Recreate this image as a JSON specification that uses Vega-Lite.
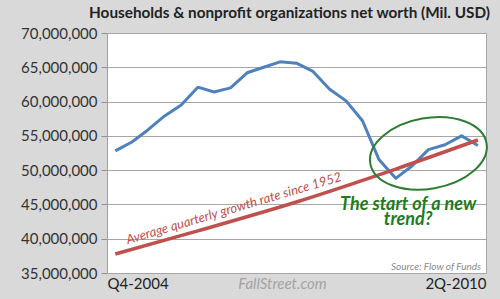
{
  "$schema": "https://vega.github.io/schema/vega-lite/v6.json",
  "width": 379,
  "height": 240,
  "autosize": "none",
  "padding": {"left": 107, "top": 33, "right": 14, "bottom": 26},
  "background": "#d9d9d9",
  "config": {
    "font": "Lato",
    "view": {"fill": "white", "stroke": "#a6a6a6"}
  },
  "title": {
    "text": "Households & nonprofit organizations net worth (Mil. USD)",
    "fontSize": 15.3,
    "fontWeight": "bold",
    "font": "Lato",
    "color": "#222222",
    "anchor": "middle",
    "dx": -7,
    "offset": 5
  },
  "datasets": {
    "networth": [
      {"quarter": "2004-10-01T00:00:00", "value": 52800000},
      {"quarter": "2005-01-01T00:00:00", "value": 54100000},
      {"quarter": "2005-04-01T00:00:00", "value": 55900000},
      {"quarter": "2005-07-01T00:00:00", "value": 57900000},
      {"quarter": "2005-10-01T00:00:00", "value": 59500000},
      {"quarter": "2006-01-01T00:00:00", "value": 62100000},
      {"quarter": "2006-04-01T00:00:00", "value": 61400000},
      {"quarter": "2006-07-01T00:00:00", "value": 62000000},
      {"quarter": "2006-10-01T00:00:00", "value": 64200000},
      {"quarter": "2007-01-01T00:00:00", "value": 65000000},
      {"quarter": "2007-04-01T00:00:00", "value": 65800000},
      {"quarter": "2007-07-01T00:00:00", "value": 65600000},
      {"quarter": "2007-10-01T00:00:00", "value": 64400000},
      {"quarter": "2008-01-01T00:00:00", "value": 61800000},
      {"quarter": "2008-04-01T00:00:00", "value": 60100000},
      {"quarter": "2008-07-01T00:00:00", "value": 57200000},
      {"quarter": "2008-10-01T00:00:00", "value": 51500000},
      {"quarter": "2009-01-01T00:00:00", "value": 48800000},
      {"quarter": "2009-04-01T00:00:00", "value": 50600000},
      {"quarter": "2009-07-01T00:00:00", "value": 53000000},
      {"quarter": "2009-10-01T00:00:00", "value": 53700000},
      {"quarter": "2010-01-01T00:00:00", "value": 55000000},
      {"quarter": "2010-04-01T00:00:00", "value": 53600000}
    ],
    "trend": [
      {"quarter": "2004-10-01T00:00:00", "value": 37770000},
      {"quarter": "2006-01-01T00:00:00", "value": 41150000},
      {"quarter": "2007-07-01T00:00:00", "value": 45360000},
      {"quarter": "2009-01-01T00:00:00", "value": 50160000},
      {"quarter": "2010-04-01T00:00:00", "value": 54400000}
    ],
    "highlight": [
      {"quarter": "2009-07-01T00:00:00", "value": 52450000}
    ],
    "notes": [
      {"quarter": "2006-07-19T00:00:00", "value": 44400000, "label": "Average quarterly growth rate since 1952", "kind": "trend"},
      {"quarter": "2009-03-11T00:00:00", "value": 44850000, "label": "The start of a new|trend?", "kind": "callout"},
      {"quarter": "2010-04-19T00:00:00", "value": 35440000, "label": "Source: Flow of Funds", "kind": "source"},
      {"quarter": "2007-04-15T00:00:00", "value": 33400000, "label": "FallStreet.com", "kind": "brand"}
    ]
  },
  "encoding": {
    "x": {
      "field": "quarter",
      "type": "temporal",
      "scale": {"domain": [{"year": 2004, "month": 8, "date": 16}, {"year": 2010, "month": 5, "date": 16}]},
      "axis": {
        "title": null,
        "values": [{"year": 2004, "month": 8, "date": 16}, {"year": 2010, "month": 5, "date": 16}],
        "labelExpr": "year(datum.value) < 2007 ? 'Q4-2004' : '2Q-2010'",
        "labelFlush": true,
        "labelOverlap": false,
        "labelFontSize": 15,
        "labelColor": "#222222",
        "labelPadding": 3,
        "ticks": false,
        "domain": false,
        "grid": false
      }
    },
    "y": {
      "field": "value",
      "type": "quantitative",
      "scale": {"domain": [35000000, 70000000], "nice": false, "zero": false},
      "axis": {
        "title": null,
        "values": [35000000, 40000000, 45000000, 50000000, 55000000, 60000000, 65000000, 70000000],
        "labelExpr": "format(datum.value, ',')",
        "labelOverlap": false,
        "labelFontSize": 15,
        "labelColor": "#333333",
        "labelPadding": 4,
        "tickSize": 6,
        "tickColor": "#909090",
        "domainColor": "#a0a0a0",
        "gridColor": "#a6a6a6",
        "gridOpacity": 1
      }
    }
  },
  "layer": [
    {
      "data": {"name": "networth"},
      "mark": {"type": "line", "color": "#4f81bd", "strokeWidth": 3, "strokeJoin": "round"}
    },
    {
      "data": {"name": "trend"},
      "mark": {"type": "line", "color": "#c0504d", "strokeWidth": 3.5, "interpolate": "monotone"}
    },
    {
      "data": {"name": "highlight"},
      "mark": {
        "type": "point",
        "shape": "M-1,0A1,0.6 0 1,1 1,0A1,0.6 0 1,1 -1,0Z",
        "size": 13924,
        "angle": -10,
        "filled": false,
        "stroke": "#2e7d32",
        "strokeWidth": 2,
        "opacity": 1
      }
    },
    {
      "data": {"name": "notes"},
      "transform": [{"filter": "datum.kind === 'trend'"}],
      "mark": {"type": "text", "color": "#c0504d", "fontSize": 13, "fontStyle": "italic", "fontWeight": "normal", "angle": -16.5, "align": "center", "baseline": "middle"},
      "encoding": {"text": {"field": "label"}}
    },
    {
      "data": {"name": "notes"},
      "transform": [{"filter": "datum.kind === 'callout'"}],
      "mark": {"type": "text", "color": "#1e7b1e", "fontSize": 18, "fontStyle": "italic", "fontWeight": "bold", "align": "center", "baseline": "middle", "lineBreak": "|", "lineHeight": 15},
      "encoding": {"text": {"field": "label"}}
    },
    {
      "data": {"name": "notes"},
      "transform": [{"filter": "datum.kind === 'source'"}],
      "mark": {"type": "text", "color": "#8a8a8a", "fontSize": 10, "fontStyle": "italic", "align": "right", "baseline": "alphabetic"},
      "encoding": {"text": {"field": "label"}}
    },
    {
      "data": {"name": "notes"},
      "transform": [{"filter": "datum.kind === 'brand'"}],
      "mark": {"type": "text", "color": "#a3a3a3", "fontSize": 15, "fontStyle": "italic", "align": "center", "baseline": "middle"},
      "encoding": {"text": {"field": "label"}}
    }
  ]
}
